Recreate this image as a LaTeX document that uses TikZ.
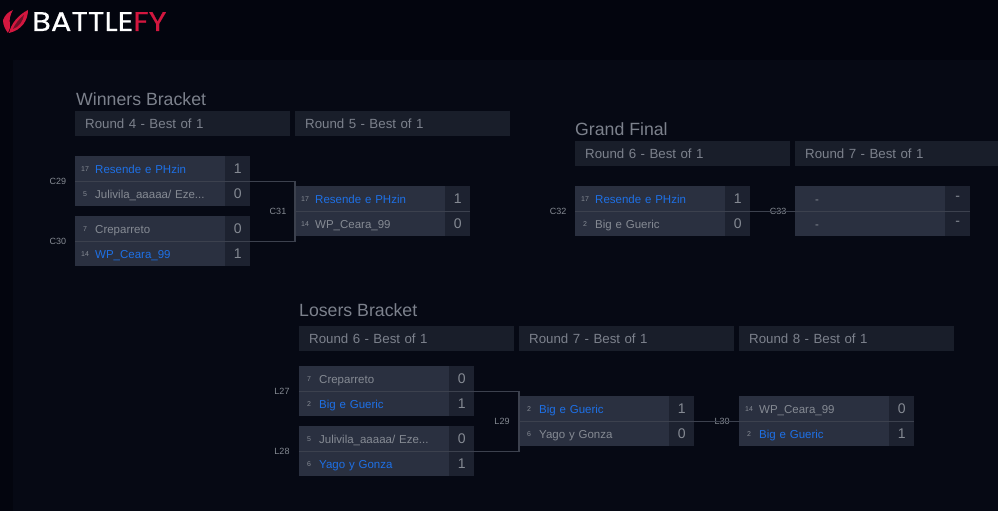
\documentclass[tikz,border=0pt]{standalone}
\usepackage{fontspec}
\setmainfont{Liberation Sans}
\newfontfamily\logofont[FakeStretch=1.13,FakeBold=0.5]{Poppins}
\definecolor{pagebg}{HTML}{03050E}
\definecolor{panelbg}{HTML}{060914}
\definecolor{headbg}{HTML}{191E2A}
\definecolor{rowbg}{HTML}{2A3040}
\definecolor{scorebg}{HTML}{1D2230}
\definecolor{linecol}{HTML}{3C414E}
\definecolor{wincol}{HTML}{1E70E6}
\definecolor{greycol}{HTML}{858A93}
\definecolor{titlecol}{HTML}{7C818C}
\definecolor{logored}{HTML}{D3173F}
\definecolor{logodark}{HTML}{6E1028}
\tikzset{
  title/.style={anchor=base west, inner sep=0, text=titlecol, font=\fontsize{17.7}{20}\selectfont},
  headbox/.style={fill=headbg, anchor=north west, minimum height=25, text height=10, text depth=1, inner ysep=0, inner xsep=10, text width=195, text=titlecol, font=\fontsize{13.3}{16}\selectfont},
  losebox/.style={fill=rowbg, anchor=north west, minimum height=25, text height=9, text depth=0, inner ysep=0, inner xsep=20, text width=110, text=greycol, font=\fontsize{11.5}{14}\selectfont},
  winbox/.style={losebox, text=wincol},
  scorebox/.style={fill=scorebg, anchor=north west, minimum width=25, minimum height=25, inner sep=0, text=greycol, font=\fontsize{14}{16}\selectfont},
  seed/.style={anchor=center, inner sep=0, yshift=-1pt, text=greycol, font=\fontsize{7}{8}\selectfont},
  matchlabel/.style={anchor=center, inner sep=0, text=greycol, font=\fontsize{9}{10}\selectfont},
  bracket/.style={draw=linecol, line width=1.3}
}
\begin{document}
\begin{tikzpicture}[x=1pt, y=-1pt]
\useasboundingbox (0,0) rectangle (998,511);
\fill[pagebg] (0,0) rectangle (998,511);
\fill[panelbg] (13,60) rectangle (998,511);
% logo
\fill[logored] (3,20) .. controls (5,15) and (8,12) .. (13,10) .. controls (10,15) and (9,20) .. (10,24) .. controls (11,27) and (9,30) .. (8,33) .. controls (5,29) and (3,25) .. (3,20) -- cycle;
\fill[logored] (9,33) .. controls (11,24) and (18,15) .. (28,10) .. controls (28,20) and (22,30) .. (9,33) -- cycle;
\fill[logodark] (13,29) .. controls (15,24) and (19,19) .. (24,15) .. controls (23,21) and (19,27) .. (13,29) -- cycle;
\node[anchor=base west, inner sep=0, text=white, font=\logofont\fontsize{27}{30}\selectfont] (logo) at (32,31) {BATTLE\textcolor{logored}{FY}};
% winners bracket
\node[title] (winners) at (76,105) {Winners Bracket};
\node[headbox] (w4) at (75,111) {Round 4 - Best of 1};
\node[headbox] (w5) at (295,111) {Round 5 - Best of 1};
\node[winbox] (c29a) at (75,156) {Resende e PHzin};
\node[scorebox] (c29as) at (225,156) {1};
\node[seed] (c29an) at (85,168.5) {17};
\node[losebox] (c29b) at (75,181) {\mbox{Julivila\_aaaaa/ Eze...}};
\node[scorebox] (c29bs) at (225,181) {0};
\node[seed] (c29bn) at (85,193.5) {5};
\node[losebox] (c30a) at (75,216) {Creparreto};
\node[scorebox] (c30as) at (225,216) {0};
\node[seed] (c30an) at (85,228.5) {7};
\node[winbox] (c30b) at (75,241) {WP\_Ceara\_99};
\node[scorebox] (c30bs) at (225,241) {1};
\node[seed] (c30bn) at (85,253.5) {14};
\node[winbox] (c31a) at (295,186) {Resende e PHzin};
\node[scorebox] (c31as) at (445,186) {1};
\node[seed] (c31an) at (305,198.5) {17};
\node[losebox] (c31b) at (295,211) {WP\_Ceara\_99};
\node[scorebox] (c31bs) at (445,211) {0};
\node[seed] (c31bn) at (305,223.5) {14};
\node[matchlabel] (c29) at (58,181.5) {C29};
\node[matchlabel] (c30) at (58,241.5) {C30};
\node[matchlabel] (c31) at (278,211.5) {C31};
\draw[bracket] (c29a.south west) -- (c29a.south west -| c31a.west) -- (c30a.south west -| c31a.west) -- (c30a.south west);
\draw[bracket] (c31a.south west) -- (c31as.south east);
% grand final
\node[title] (grand) at (575,135) {Grand Final};
\node[headbox] (g6) at (575,141) {Round 6 - Best of 1};
\node[headbox] (g7) at (795,141) {Round 7 - Best of 1};
\node[winbox] (c32a) at (575,186) {Resende e PHzin};
\node[scorebox] (c32as) at (725,186) {1};
\node[seed] (c32an) at (585,198.5) {17};
\node[losebox] (c32b) at (575,211) {Big e Gueric};
\node[scorebox] (c32bs) at (725,211) {0};
\node[seed] (c32bn) at (585,223.5) {2};
\node[losebox] (c33a) at (795,186) {-};
\node[scorebox] (c33as) at (945,186) {-};
\node[losebox] (c33b) at (795,211) {-};
\node[scorebox] (c33bs) at (945,211) {-};
\node[matchlabel] (c32) at (558,211.5) {C32};
\node[matchlabel] (c33) at (778,211.5) {C33};
\draw[bracket] (c32a.south west) -- (c33as.south east);
% losers bracket
\node[title] (losers) at (299,316) {Losers Bracket};
\node[headbox] (l6) at (299,326) {Round 6 - Best of 1};
\node[headbox] (l7) at (519,326) {Round 7 - Best of 1};
\node[headbox] (l8) at (739,326) {Round 8 - Best of 1};
\node[losebox] (l27a) at (299,366) {Creparreto};
\node[scorebox] (l27as) at (449,366) {0};
\node[seed] (l27an) at (309,378.5) {7};
\node[winbox] (l27b) at (299,391) {Big e Gueric};
\node[scorebox] (l27bs) at (449,391) {1};
\node[seed] (l27bn) at (309,403.5) {2};
\node[losebox] (l28a) at (299,426) {\mbox{Julivila\_aaaaa/ Eze...}};
\node[scorebox] (l28as) at (449,426) {0};
\node[seed] (l28an) at (309,438.5) {5};
\node[winbox] (l28b) at (299,451) {Yago y Gonza};
\node[scorebox] (l28bs) at (449,451) {1};
\node[seed] (l28bn) at (309,463.5) {6};
\node[winbox] (l29a) at (519,396) {Big e Gueric};
\node[scorebox] (l29as) at (669,396) {1};
\node[seed] (l29an) at (529,408.5) {2};
\node[losebox] (l29b) at (519,421) {Yago y Gonza};
\node[scorebox] (l29bs) at (669,421) {0};
\node[seed] (l29bn) at (529,433.5) {6};
\node[losebox] (l30a) at (739,396) {WP\_Ceara\_99};
\node[scorebox] (l30as) at (889,396) {0};
\node[seed] (l30an) at (749,408.5) {14};
\node[winbox] (l30b) at (739,421) {Big e Gueric};
\node[scorebox] (l30bs) at (889,421) {1};
\node[seed] (l30bn) at (749,433.5) {2};
\node[matchlabel] (l27) at (282,391.5) {L27};
\node[matchlabel] (l28) at (282,451.5) {L28};
\node[matchlabel] (l29) at (502,421.5) {L29};
\node[matchlabel] (l30) at (722,421.5) {L30};
\draw[bracket] (l27a.south west) -- (l27a.south west -| l29a.west) -- (l28a.south west -| l29a.west) -- (l28a.south west);
\draw[bracket] (l29a.south west) -- (l30as.south east);
\end{tikzpicture}
\end{document}
